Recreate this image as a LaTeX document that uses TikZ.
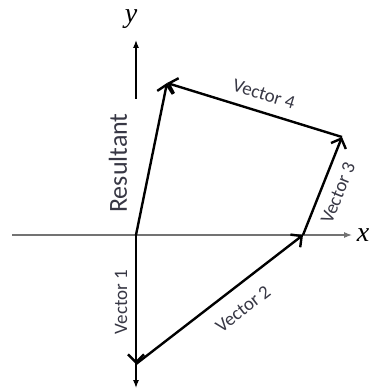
\documentclass[tikz,border=0pt]{standalone}
\usepackage{fontspec}
\setmainfont{Carlito}
\newfontfamily\axisfont{Liberation Serif}
\usetikzlibrary{arrows.meta}
\definecolor{labelgray}{RGB}{55,55,68}
\begin{document}
\begin{tikzpicture}[x=1pt, y=-1pt,
    vec/.style={line width=2.4pt, -{Straight Barb[length=8pt, width=16pt]}},
    axis/.style={line width=1.1pt, -{Latex[length=8pt, width=6pt]}},
    lbl/.style={text=labelgray, font=\fontsize{19}{19}\selectfont, inner sep=0pt},
    axislbl/.style={font=\axisfont\itshape\fontsize{28}{28}\selectfont, inner sep=0pt}]
    \useasboundingbox (0,0) rectangle (372,390);
    % points of the polygon
    \coordinate (o) at (136,235);
    \coordinate (p1) at (136,364);
    \coordinate (p2) at (303,235);
    \coordinate (p3) at (342,137);
    \coordinate (p4) at (167,83);
    % axes
    \coordinate (xstart) at (12,235);
    \coordinate (xend) at (352,235);
    \coordinate (ybottom) at (136,388);
    \coordinate (ymarkstart) at (136,99);
    \coordinate (ymarkend) at (136,40);
    \draw[axis, draw=black!55] (xstart) -- (xend);
    \draw[axis] (o) -- (ybottom);
    \draw[axis] (ymarkstart) -- (ymarkend);
    \node[axislbl] (xlabel) at (363,235) {x};
    \node[axislbl] (ylabel) at (131,19) {y};
    % vectors
    \draw[vec] (o) -- (p1);
    \draw[vec] (p1) -- (p2);
    \draw[vec] (p2) -- (p3);
    \draw[vec] (p3) -- (p4);
    \draw[vec] (o) -- (p4);
    % labels
    \node[lbl, rotate=90] (lblone) at (121,302) {Vector 1};
    \node[lbl, rotate=38] (lbltwo) at (243,309) {Vector 2};
    \node[lbl, rotate=68] (lblthree) at (338,193) {Vector 3};
    \node[lbl, rotate=-17] (lblfour) at (264,94) {Vector 4};
    \node[lbl, rotate=90, font=\fontsize{26}{26}\selectfont] (lblres) at (118,163) {Resultant};
\end{tikzpicture}
\end{document}
